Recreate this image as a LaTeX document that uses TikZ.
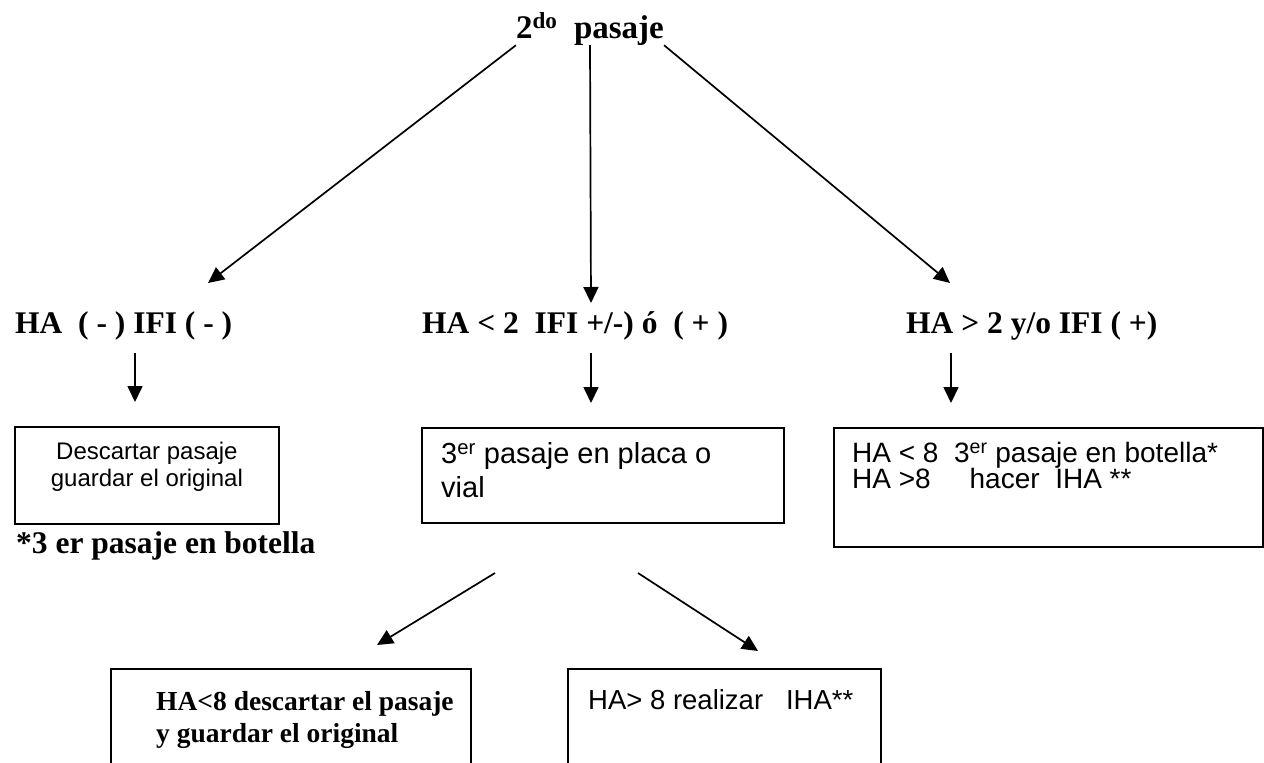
\documentclass[tikz,border=0pt]{standalone}
\usepackage{fontspec}
\setmainfont{Liberation Serif}
\setsansfont{Liberation Sans}
\usetikzlibrary{arrows.meta}
\tikzset{
  head/.style={font=\bfseries\fontsize{33}{36}\selectfont,inner sep=0pt},
  cond/.style={font=\bfseries\fontsize{31.5}{36}\selectfont,inner sep=0pt,anchor=base west},
  frame/.style={draw,line width=1.8pt,inner sep=0pt,anchor=north west},
  boxtext/.style={font=\sffamily\fontsize{28}{26.5}\selectfont,inner sep=0pt,anchor=north west,align=left},
  arr/.style={-{Triangle[length=16pt,width=15pt]},line width=1.7pt}
}
\begin{document}
\begin{tikzpicture}[x=1pt,y=-1pt]
  \useasboundingbox (0,0) rectangle (1264,763);
  \clip (0,0) rectangle (1264,763);
  % top of the tree
  \node[head,anchor=base] (title) at (590,38) {2\textsuperscript{do}~~pasaje};
  \coordinate (tipL) at (208,283);
  \coordinate (tipM) at (591,303);
  \coordinate (tipR) at (950,283);
  \draw[arr] (title.south west) -- (tipL);
  \draw[arr] (title.south) -- (tipM);
  \draw[arr] (title.south east) -- (tipR);
  % second row
  \node[cond] (lneg) at (15,333) {HA~~(~-~)~IFI~(~-~)};
  \node[cond] (lmid) at (422,333) {HA < 2~~IFI +/-) ó~~(~+~)};
  \node[cond] (lpos) at (906,333) {HA > 2 y/o IFI (~+)};
  \coordinate (colL) at (135,0);
  \coordinate (colM) at (591,0);
  \coordinate (colR) at (951,0);
  \node[frame,minimum width=264pt,minimum height=97pt] (boxL) at (14,426) {};
  \node[frame,minimum width=362pt,minimum height=95pt] (boxM) at (421,427) {};
  \node[frame,minimum width=429pt,minimum height=119pt] (boxR) at (833,427) {};
  \draw[arr,shorten <=13pt,shorten >=24pt] (lneg.south -| colL) -- (boxL.north -| colL);
  \draw[arr,shorten <=13pt,shorten >=24pt] (lmid.south -| colM) -- (boxM.north -| colM);
  \draw[arr,shorten <=13pt,shorten >=24pt] (lpos.south -| colR) -- (boxR.north -| colR);
  \node[boxtext,anchor=north,align=center,font=\sffamily\fontsize{24}{27}\selectfont] (txtL)
    at ([yshift=-16pt]boxL.north) {Descartar pasaje\\guardar el original};
  \node[boxtext,font=\sffamily\fontsize{29}{34}\selectfont] (txtM)
    at ([xshift=20pt,yshift=-15pt]boxM.north west) {3\textsuperscript{er} pasaje en placa o\\vial};
  \node[boxtext] (txtR) at ([xshift=19pt,yshift=-15pt]boxR.north west)
    {HA < 8~~3\textsuperscript{er} pasaje en botella*\\HA >8~~~~~hacer~~IHA **};
  \node[cond] (note) at (16,553) {*3 er pasaje en botella};
  % third row
  \coordinate (forkL) at (495,573);
  \coordinate (forkR) at (638,573);
  \coordinate (tipBL) at (377,645);
  \coordinate (tipBR) at (758,651);
  \draw[arr] (forkL) -- (tipBL);
  \draw[arr] (forkR) -- (tipBR);
  \node[frame,minimum width=360pt,minimum height=150pt] (boxBL) at (110,668) {};
  \node[frame,minimum width=313pt,minimum height=150pt] (boxBR) at (567,668) {};
  \node[boxtext,font=\bfseries\rmfamily\fontsize{27.5}{32}\selectfont] (txtBL)
    at ([xshift=46pt,yshift=-23pt]boxBL.north west) {HA<8 descartar el pasaje\\y guardar el original};
  \node[boxtext,font=\sffamily\fontsize{27.5}{30}\selectfont] (txtBR)
    at ([xshift=21pt,yshift=-21pt]boxBR.north west) {HA> 8 realizar~~~IHA**};
\end{tikzpicture}
\end{document}
